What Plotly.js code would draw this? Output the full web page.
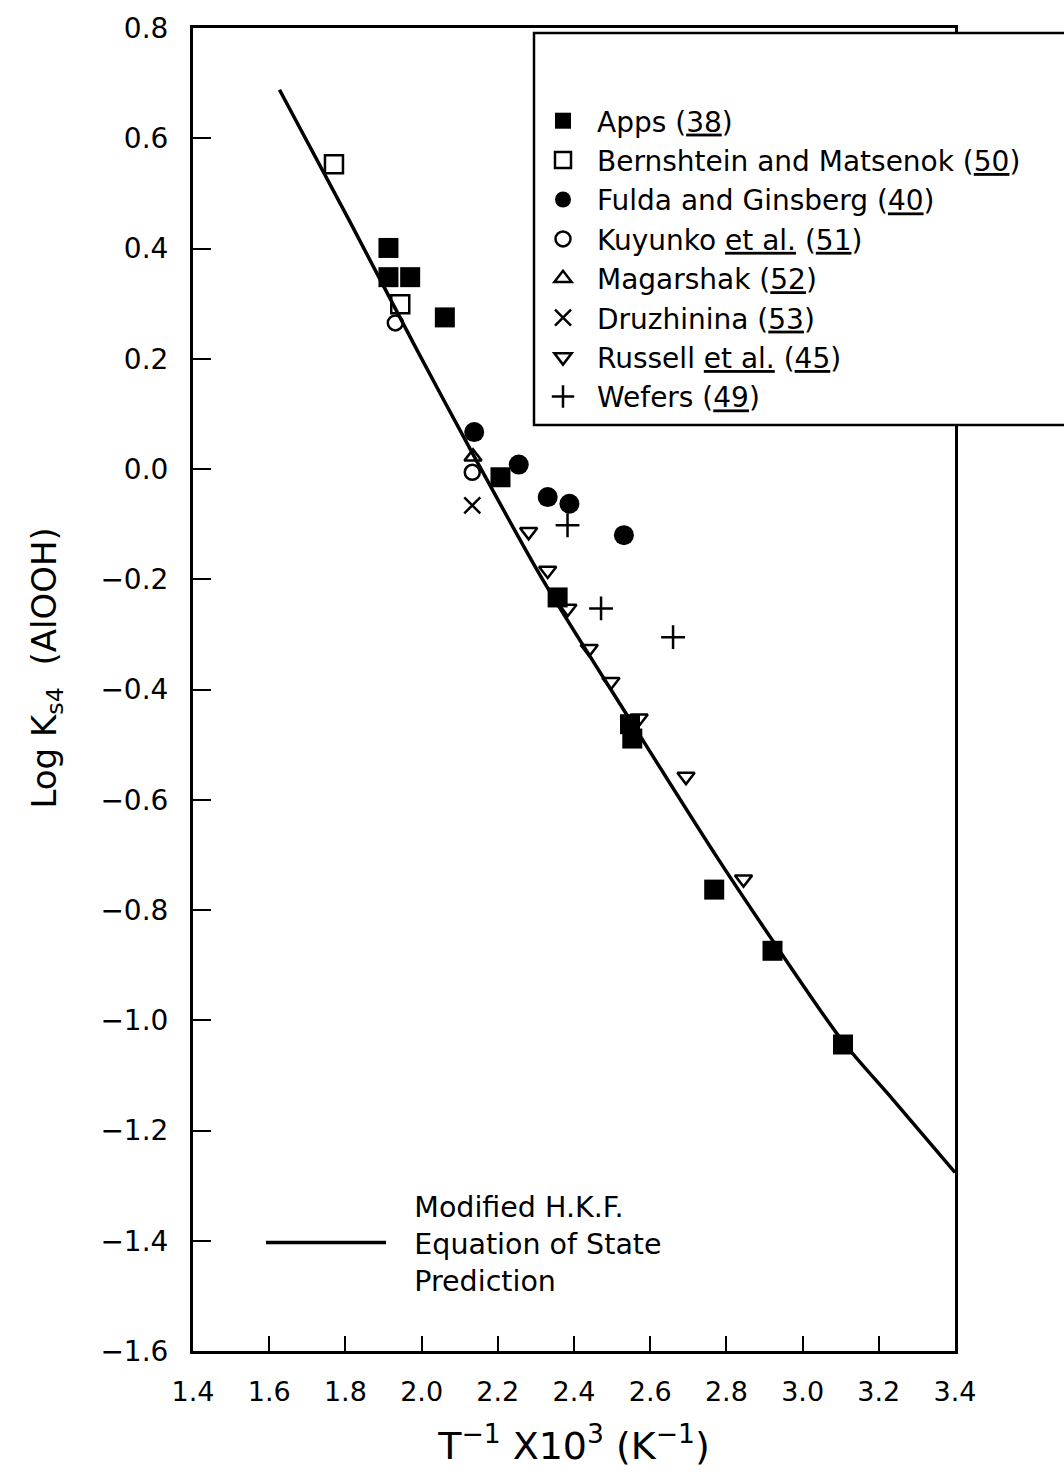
<!DOCTYPE html>
<html>
<head>
<meta charset="utf-8">
<script src="https://cdn.plot.ly/plotly-3.0.1.min.js"></script>
<style>html,body{margin:0;padding:0;background:#fff;}#chart{width:1064px;height:1476px;}</style>
</head>
<body>
<div id="chart"></div>
<script>
// ---- data ----
const appsX = [1.913, 1.913, 1.970, 2.061, 2.207, 2.357, 2.547, 2.553, 2.768, 2.921, 3.106];
const appsY = [0.401, 0.348, 0.348, 0.275, -0.015, -0.233, -0.463, -0.489, -0.763, -0.874, -1.044];

const bernX = [1.770, 1.944];
const bernY = [0.553, 0.299];

const fuldaX = [2.138, 2.255, 2.331, 2.388, 2.531];
const fuldaY = [0.067, 0.008, -0.051, -0.063, -0.120];

const kuyX = [1.931, 2.133];
const kuyY = [0.265, -0.006];

const magX = [2.135];
const magY = [0.022];

const druzX = [2.133];
const druzY = [-0.066];

const russX = [2.281, 2.331, 2.384, 2.440, 2.497, 2.571, 2.694, 2.845];
const russY = [-0.114, -0.184, -0.253, -0.326, -0.386, -0.452, -0.558, -0.744];

const wefX = [2.383, 2.471, 2.660];
const wefY = [-0.102, -0.253, -0.305];

// Modified H.K.F. equation of state prediction (curve)
const hkfX = [1.627, 1.810, 1.987, 2.134, 2.319, 2.547, 2.776, 2.922, 3.105, 3.236, 3.400];
const hkfY = [0.688, 0.451, 0.217, 0.028, -0.202, -0.455, -0.705, -0.856, -1.038, -1.143, -1.276];

const seriesNames = [
  'Apps (<u>38</u>)',
  'Bernshtein and Matsenok (<u>50</u>)',
  'Fulda and Ginsberg (<u>40</u>)',
  'Kuyunko <u>et al.</u> (<u>51</u>)',
  'Magarshak (<u>52</u>)',
  'Druzhinina (<u>53</u>)',
  'Russell <u>et al.</u> (<u>45</u>)',
  'Wefers (<u>49</u>)'
];
const hkfLines = ['Modified H.K.F.', 'Equation of State', 'Prediction'];

const xTicks = [1.4, 1.6, 1.8, 2.0, 2.2, 2.4, 2.6, 2.8, 3.0, 3.2, 3.4];
const yTicks = [0.8, 0.6, 0.4, 0.2, 0.0, -0.2, -0.4, -0.6, -0.8, -1.0, -1.2, -1.4, -1.6];

// ---- styling ----
const FONT = 'DejaVu Sans, sans-serif';
function pts(x, y, name, symbol, size, lw) {
  return {
    type: 'scatter', mode: 'markers', x: x, y: y, name: name,
    legend: 'legend',
    marker: {symbol: symbol, size: size, color: '#000',
             line: {color: '#000', width: lw}},
    cliponaxis: false
  };
}

const GAP = '\u2002\u00a0';
const traces = [
  {type: 'scatter', mode: 'lines', x: hkfX, y: hkfY,
   name: hkfLines.map(s => GAP + s).join('<br>'),
   legend: 'legend2', line: {color: '#000', width: 3.5, shape: 'spline', smoothing: 0.8}},
  pts(appsX, appsY, seriesNames[0], 'square', 20, 0),
  pts(bernX, bernY, seriesNames[1], 'square-open', 18, 2.5),
  pts(fuldaX, fuldaY, seriesNames[2], 'circle', 20, 0),
  pts(kuyX, kuyY, seriesNames[3], 'circle-open', 15, 2.5),
  pts(magX, magY, seriesNames[4], 'triangle-up-open', 15, 2.5),
  pts(druzX, druzY, seriesNames[5], 'x-thin-open', 16, 2.5),
  pts(russX, russY, seriesNames[6], 'triangle-down-open', 15, 2.5),
  pts(wefX, wefY, seriesNames[7], 'cross-thin-open', 17, 2.5)
];

const L = 193, R = 955, T = 28, B = 1351;
const W = 1064, H = 1476;

const layout = {
  width: W, height: H,
  margin: {l: L, r: W - R, t: T, b: H - B, pad: 0},
  paper_bgcolor: '#fff', plot_bgcolor: '#fff',
  font: {family: FONT, color: '#000', size: 26},
  showlegend: true,
  xaxis: {
    range: [1.4, 3.4], tickvals: xTicks,
    ticktext: xTicks.map(v => v.toFixed(1)),
    ticks: 'inside', ticklen: 15, tickwidth: 2, tickcolor: '#000',
    showline: true, mirror: true, linewidth: 3, linecolor: '#000',
    showgrid: false, zeroline: false,
    tickfont: {size: 27, family: FONT},
    ticklabelstandoff: 15,
    title: {text: 'T<sup>\u22121</sup> X10<sup>3</sup> (K<sup>\u22121</sup>)',
            font: {size: 38, family: FONT}, standoff: 26}
  },
  yaxis: {
    range: [-1.6, 0.8], tickvals: yTicks,
    ticktext: yTicks.map(v => (v < 0 ? '\u2212' + Math.abs(v).toFixed(1) : v.toFixed(1))),
    ticks: 'inside', ticklen: 18, tickwidth: 2, tickcolor: '#000',
    showline: true, mirror: true, linewidth: 3, linecolor: '#000',
    showgrid: false, zeroline: false,
    tickfont: {size: 28, family: FONT},
    ticklabelstandoff: 16,
    title: {text: '\u200b\u00a0\u00a0\u00a0\u00a0Log K<sub>s4</sub>  (AlOOH)',
            font: {size: 34, family: FONT}, standoff: 34}
  },
  legend: {
    x: (529 - L) / (R - L), xanchor: 'left',
    y: (B - 96) / (B - T), yanchor: 'top',
    bgcolor: 'rgba(0,0,0,0)', borderwidth: 0,
    font: {size: 28, family: FONT, color: '#000'},
    itemwidth: 58, tracegroupgap: 0, itemclick: false
  },
  legend2: {
    x: (261 - L) / (R - L), xanchor: 'left',
    y: (B - 1243) / (B - T), yanchor: 'middle',
    bgcolor: 'rgba(0,0,0,0)', borderwidth: 0,
    font: {size: 28.5, family: FONT, color: '#000'},
    itemwidth: 120, itemclick: false
  },
  shapes: [{
    type: 'rect', xref: 'paper', yref: 'paper', layer: 'above',
    x0: (534 - L) / (R - L), x1: 1.25,
    y0: (B - 425) / (B - T), y1: (B - 33) / (B - T),
    line: {color: '#000', width: 2.5}, fillcolor: '#fff'
  }]
};

Plotly.newPlot('chart', traces, layout, {displayModeBar: false, staticPlot: true});
</script>
</body>
</html>
